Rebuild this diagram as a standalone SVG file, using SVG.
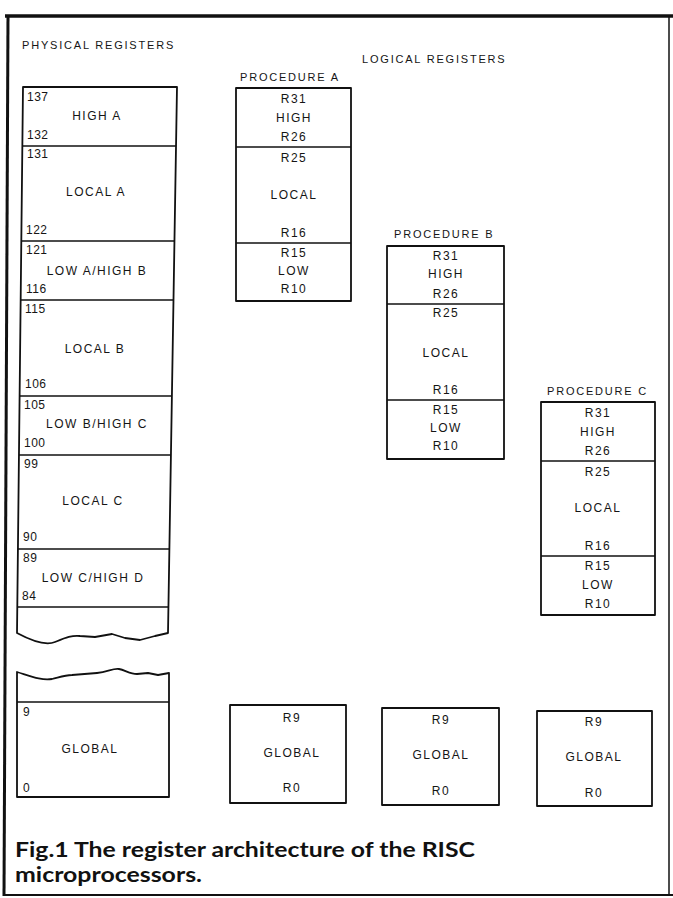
<svg xmlns="http://www.w3.org/2000/svg" width="673" height="898" viewBox="0 0 673 898">
<style>
  text { font-family: "Liberation Sans", Arial, sans-serif; fill: #151515; }
  .h { font-size: 11px; letter-spacing: 1.8px; }
  .t { font-size: 12px; letter-spacing: 1.5px; text-anchor: middle; }
  .n { font-size: 12px; letter-spacing: 0.5px; }
  .cap { font-family: "Lato", "Open Sans", "Liberation Sans", sans-serif; font-weight: bold; font-size: 20px; fill: #111; }
  .box { fill: none; stroke: #111; stroke-width: 1.8; stroke-linejoin: round; }
  .sep { fill: none; stroke: #111; stroke-width: 1.3; }
  .frame { fill: none; stroke: #111; }
</style>
<rect width="673" height="898" fill="#fff"/>

<g id="frame">
  <line class="frame" x1="5" y1="16" x2="673" y2="16" stroke-width="3.5"/>
  <line class="frame" x1="8" y1="15" x2="4" y2="896" stroke-width="3"/>
  <line class="frame" x1="3" y1="895" x2="673" y2="895" stroke-width="2"/>
  <line class="frame" x1="669" y1="16" x2="669" y2="895" stroke-width="1.5"/>
</g>

<g id="headers">
  <text class="h" x="22" y="49">PHYSICAL REGISTERS</text>
  <text class="h" x="362" y="63">LOGICAL REGISTERS</text>
</g>

<g id="physical-upper">
  <path class="box" d="M23,87 L177,87 L168,633 L155,636 L140,640 L125,638 L112,634 L95,637 L80,636 C72,635 65,638 55,642 C45,646 30,640 17,633 Z"/>
  <line class="sep" x1="22.4" y1="146" x2="176" y2="146"/>
  <line class="sep" x1="21.3" y1="241" x2="174.5" y2="241"/>
  <line class="sep" x1="20.7" y1="300" x2="173.5" y2="300"/>
  <line class="sep" x1="19.6" y1="396" x2="171.9" y2="396"/>
  <line class="sep" x1="19" y1="455" x2="170.9" y2="455"/>
  <line class="sep" x1="17.9" y1="549" x2="169.4" y2="549"/>
  <line class="sep" x1="17.3" y1="607" x2="168.4" y2="607"/>

  <text class="n" x="27" y="101">137</text>
  <text class="t" x="97" y="120">HIGH A</text>
  <text class="n" x="27" y="139">132</text>
  <text class="n" x="27" y="158">131</text>
  <text class="t" x="96" y="196">LOCAL A</text>
  <text class="n" x="26" y="234">122</text>
  <text class="n" x="26" y="254">121</text>
  <text class="t" x="97" y="275">LOW A/HIGH B</text>
  <text class="n" x="26" y="293">116</text>
  <text class="n" x="25" y="313">115</text>
  <text class="t" x="95" y="353">LOCAL B</text>
  <text class="n" x="25" y="388">106</text>
  <text class="n" x="24" y="409">105</text>
  <text class="t" x="97" y="428">LOW B/HIGH C</text>
  <text class="n" x="24" y="447">100</text>
  <text class="n" x="24" y="468">99</text>
  <text class="t" x="93" y="505">LOCAL C</text>
  <text class="n" x="23" y="541">90</text>
  <text class="n" x="23" y="562">89</text>
  <text class="t" x="93" y="582">LOW C/HIGH D</text>
  <text class="n" x="22" y="600">84</text>
</g>

<g id="physical-global">
  <path class="box" d="M17,672 C30,676 42,681 52,679 C60,677 65,675 72,675 L97,673 C108,672 113,668 119,669 C125,670 130,674 137,674 L148,673 L158,675 L169,673 L169,797 L17,797 Z"/>
  <line class="sep" x1="17" y1="702" x2="169" y2="702"/>
  <text class="n" x="23" y="716">9</text>
  <text class="t" x="90" y="753">GLOBAL</text>
  <text class="n" x="23" y="792">0</text>
</g>

<g id="procedure-a">
  <text class="h" x="240" y="81">PROCEDURE A</text>
  <rect class="box" x="236" y="88" width="115" height="213"/>
  <line class="sep" x1="236" y1="147" x2="351" y2="147"/>
  <line class="sep" x1="236" y1="243" x2="351" y2="243"/>
  <text class="t" x="294" y="103">R31</text>
  <text class="t" x="294" y="122">HIGH</text>
  <text class="t" x="294" y="141">R26</text>
  <text class="t" x="294" y="162">R25</text>
  <text class="t" x="294" y="199">LOCAL</text>
  <text class="t" x="294" y="237">R16</text>
  <text class="t" x="294" y="257">R15</text>
  <text class="t" x="294" y="275">LOW</text>
  <text class="t" x="294" y="293">R10</text>
</g>

<g id="procedure-b">
  <text class="h" x="394" y="238">PROCEDURE B</text>
  <rect class="box" x="387" y="246" width="117" height="213"/>
  <line class="sep" x1="387" y1="304" x2="504" y2="304"/>
  <line class="sep" x1="387" y1="400" x2="504" y2="400"/>
  <text class="t" x="446" y="260">R31</text>
  <text class="t" x="446" y="278">HIGH</text>
  <text class="t" x="446" y="298">R26</text>
  <text class="t" x="446" y="317">R25</text>
  <text class="t" x="446" y="357">LOCAL</text>
  <text class="t" x="446" y="394">R16</text>
  <text class="t" x="446" y="414">R15</text>
  <text class="t" x="446" y="432">LOW</text>
  <text class="t" x="446" y="450">R10</text>
</g>

<g id="procedure-c">
  <text class="h" x="547" y="395">PROCEDURE C</text>
  <rect class="box" x="541" y="402" width="114" height="213"/>
  <line class="sep" x1="541" y1="461" x2="655" y2="461"/>
  <line class="sep" x1="541" y1="556" x2="655" y2="556"/>
  <text class="t" x="598" y="417">R31</text>
  <text class="t" x="598" y="436">HIGH</text>
  <text class="t" x="598" y="455">R26</text>
  <text class="t" x="598" y="476">R25</text>
  <text class="t" x="598" y="512">LOCAL</text>
  <text class="t" x="598" y="550">R16</text>
  <text class="t" x="598" y="570">R15</text>
  <text class="t" x="598" y="589">LOW</text>
  <text class="t" x="598" y="608">R10</text>
</g>

<g id="global-a">
  <rect class="box" x="230" y="705" width="116" height="98"/>
  <text class="t" x="292" y="722">R9</text>
  <text class="t" x="292" y="757">GLOBAL</text>
  <text class="t" x="292" y="792">R0</text>
</g>

<g id="global-b">
  <rect class="box" x="382" y="708" width="117" height="97"/>
  <text class="t" x="441" y="724">R9</text>
  <text class="t" x="441" y="759">GLOBAL</text>
  <text class="t" x="441" y="795">R0</text>
</g>

<g id="global-c">
  <rect class="box" x="537" y="711" width="115" height="95"/>
  <text class="t" x="594" y="726">R9</text>
  <text class="t" x="594" y="761">GLOBAL</text>
  <text class="t" x="594" y="797">R0</text>
</g>

<g id="caption">
  <text class="cap" x="15" y="857" textLength="460" lengthAdjust="spacingAndGlyphs">Fig.1 The register architecture of the RISC</text>
  <text class="cap" x="15" y="882" textLength="187" lengthAdjust="spacingAndGlyphs">microprocessors.</text>
</g>
</svg>
